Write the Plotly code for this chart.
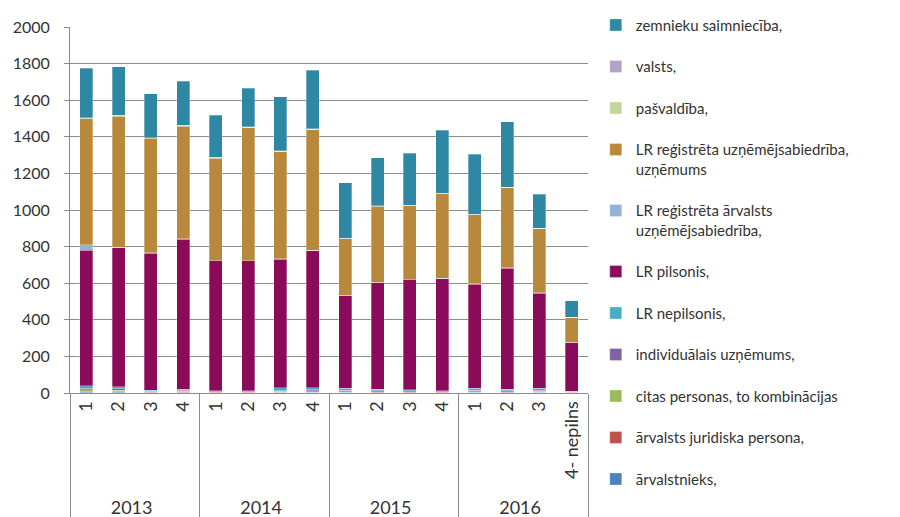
import plotly.graph_objects as go

years = ["2013"] * 4 + ["2014"] * 4 + ["2015"] * 4 + ["2016"] * 4
quarters = ["1", "2", "3", "4", "1", "2", "3", "4", "1", "2", "3", "4", "1", "2", "3", "4- nepilns"]

arvalstnieks = [4, 3, 2, 2, 2, 2, 3, 3, 3, 2, 2, 2, 3, 2, 3, 1]
arvalsts_jur = [3, 3, 2, 3, 2, 2, 2, 2, 2, 2, 2, 2, 2, 2, 2, 1]
citas = [12, 10, 3, 5, 2, 2, 4, 6, 6, 4, 4, 2, 6, 4, 5, 2]
individualais = [8, 8, 3, 4, 2, 2, 4, 6, 5, 4, 3, 2, 5, 4, 5, 2]
nepilsonis = [13, 11, 5, 6, 4, 4, 17, 13, 9, 8, 7, 4, 9, 8, 10, 4]
pilsonis = [741, 759, 748, 820, 710, 710, 701, 748, 508, 584, 600, 613, 569, 662, 520, 266]
reg_arvalsts = [28, 3, 3, 3, 2, 2, 3, 2, 2, 2, 2, 2, 2, 2, 2, 1]
reg_uzn = [690, 716, 625, 615, 558, 726, 585, 659, 307, 415, 402, 461, 377, 437, 350, 135]
pasvaldiba = [4, 3, 3, 3, 3, 3, 3, 3, 2, 2, 2, 2, 2, 2, 2, 1]
valsts = [2, 2, 2, 2, 2, 2, 2, 2, 1, 1, 1, 1, 1, 1, 1, 1]
zemnieku = [269, 264, 240, 241, 231, 209, 294, 320, 304, 261, 284, 345, 329, 358, 185, 89]

series = [
    ("ārvalstnieks,", arvalstnieks, "#4F81BD"),
    ("ārvalsts juridiska persona,", arvalsts_jur, "#C0504D"),
    ("citas personas, to kombinācijas", citas, "#9BBB59"),
    ("individuālais uzņēmums,", individualais, "#8064A2"),
    ("LR nepilsonis,", nepilsonis, "#4BACC6"),
    ("LR pilsonis,", pilsonis, "#8C0A5A"),
    ("LR reģistrēta ārvalsts<br>uzņēmējsabiedrība,", reg_arvalsts, "#95B3D7"),
    ("LR reģistrēta uzņēmējsabiedrība,<br>uzņēmums", reg_uzn, "#B8893C"),
    ("pašvaldība,", pasvaldiba, "#C3D69B"),
    ("valsts,", valsts, "#B2A2C7"),
    ("zemnieku saimniecība,", zemnieku, "#2F88A3"),
]

n = len(series)
fig = go.Figure()
for i, (name, vals, col) in enumerate(series):
    fig.add_trace(go.Bar(
        x=[years, quarters], y=vals, name=name,
        marker=dict(color=col, line=dict(color="rgba(255,255,255,0.6)", width=0.5)),
        legendgroup=str(i), legendrank=n - i,
    ))

fig.update_layout(
    barmode="stack",
    bargap=0.6,
    width=900, height=517,
    margin=dict(l=62, r=320, t=19, b=132, autoexpand=False),
    plot_bgcolor="white", paper_bgcolor="white",
    font=dict(family="Lato, Carlito, sans-serif", size=15, color="#333333"),
    legend=dict(
        x=1.015, y=1.05, xanchor="left", yanchor="top",
        traceorder="grouped", tracegroupgap=19, valign="top",
        font=dict(size=15, color="#333333"),
        itemwidth=30, maxheight=517,
    ),
    showlegend=True,
)
fig.update_yaxes(
    range=[0, 2000], dtick=200, showgrid=True, gridcolor="#8c8c8c", gridwidth=1,
    showline=True, linecolor="#8c8c8c", ticks="outside", ticklen=5, tickcolor="#8c8c8c",
    ticklabelstandoff=11, tickfont=dict(size=16, color="#333333"),
    zeroline=False, automargin=False,
)
fig.update_xaxes(
    type="multicategory", tickangle=-90, showline=True, linecolor="#8c8c8c",
    showdividers=True, dividercolor="#8c8c8c", dividerwidth=1,
    tickfont=dict(size=18, color="#333333"), mirror=False, automargin=False,
)

fig.write_html("out.html")
